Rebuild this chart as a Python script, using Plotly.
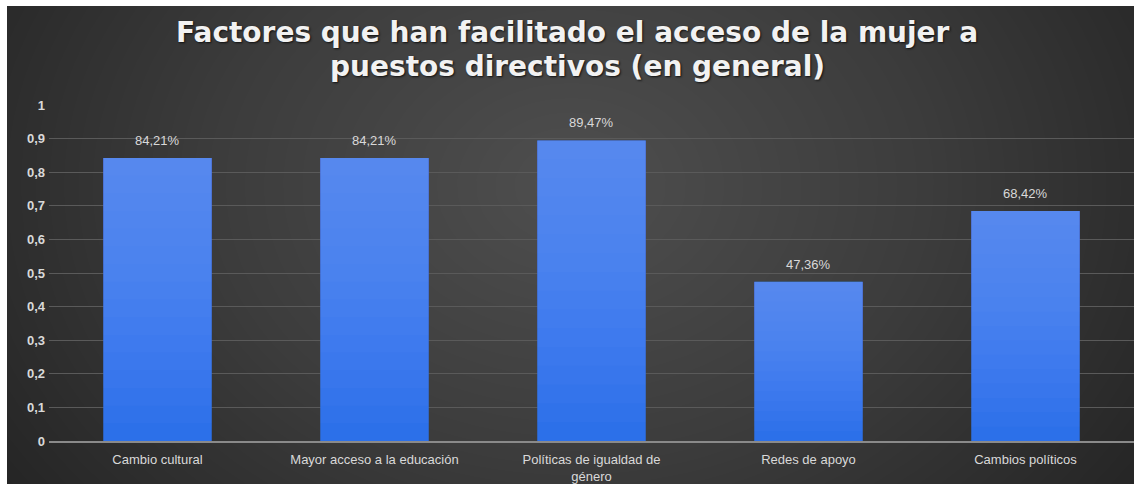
import numpy as np
import plotly.graph_objects as go

# Survey results: share of respondents naming each factor
categories = [
    "Cambio cultural",
    "Mayor acceso a la educación",
    "Políticas de igualdad de<br>género",
    "Redes de apoyo",
    "Cambios políticos",
]
values = [0.8421, 0.8421, 0.8947, 0.4736, 0.6842]
y_ticks = [0, 0.1, 0.2, 0.3, 0.4, 0.5, 0.6, 0.7, 0.8, 0.9, 1]

title_lines = [
    "Factores que han facilitado el acceso de la mujer a",
    "puestos directivos (en general)",
]

W, H = 1134, 484
FONT = "Liberation Sans, Arial, sans-serif"
TITLE_FONT = "DejaVu Sans, Liberation Sans, sans-serif"
LABEL_COLOR = "#d9d9d9"

# Dark vignette background drawn as a smoothed heatmap on its own full-size axes
gx = np.linspace(0, 1, 61)
gy = np.linspace(0, 1, 31)
X, Y = np.meshgrid(gx, gy)
r = np.sqrt(((X - 0.5) / 0.62) ** 2 + ((Y - 0.62) / 1.1) ** 2)
bg_z = np.clip(1 - r, 0, 1)

fig = go.Figure()
fig.add_trace(go.Heatmap(
    x=gx, y=gy, z=bg_z,
    colorscale=[[0, "#242424"], [0.5, "#3c3c3c"], [1, "#4e4e4e"]],
    zsmooth="best", showscale=False, hoverinfo="skip",
    xaxis="x", yaxis="y",
))

# Bars: solid base colour, then translucent lighter layers stacked toward the top
# of each bar to give a vertical gradient
fig.add_trace(go.Bar(
    x=categories, y=values,
    marker=dict(color="#2c70e9", line=dict(width=0)),
    xaxis="x2", yaxis="y2", name="",
))
n_layers = 16
for k in range(1, n_layers):
    f = k / n_layers
    fig.add_trace(go.Bar(
        x=categories,
        y=[v * (1 - f) for v in values],
        base=[v * f for v in values],
        marker=dict(color="rgba(122,168,255,0.055)", line=dict(width=0)),
        hoverinfo="skip", xaxis="x2", yaxis="y2",
    ))

annotations = []
# value labels above each bar
for c, v in zip(categories, values):
    annotations.append(dict(
        x=c, y=v, xref="x2", yref="y2",
        text=f"{v * 100:.2f}%".replace(".", ","),
        showarrow=False, yanchor="bottom", yshift=8,
        font=dict(family=FONT, size=13, color=LABEL_COLOR),
    ))
# two-line title
for i, line in enumerate(title_lines):
    annotations.append(dict(
        x=577 / W, y=1 - (33 + 33 * i) / H, xref="paper", yref="paper",
        text=line, showarrow=False, xanchor="center", yanchor="middle",
        font=dict(family=TITLE_FONT, size=28, color="#f2f2f2", weight="bold",
                  shadow="1px 1px 2px #111111"),
    ))

fig.update_layout(
    width=W, height=H,
    margin=dict(l=0, r=0, t=0, b=0, autoexpand=False),
    paper_bgcolor="#262626",
    plot_bgcolor="rgba(0,0,0,0)",
    separators=",.",
    showlegend=False,
    barmode="overlay",
    bargap=0.5,
    xaxis=dict(domain=[7 / W, 1], range=[0.01, 0.99], visible=False, fixedrange=True),
    yaxis=dict(domain=[0, 1 - 6 / H], range=[0.02, 0.98], visible=False, fixedrange=True),
    xaxis2=dict(
        domain=[49 / W, 1], anchor="y2", automargin=False,
        showgrid=False, showline=True, linecolor="#8a8a8a", linewidth=2,
        ticks="", ticklabelstandoff=5,
        tickfont=dict(family=FONT, size=13, color=LABEL_COLOR),
    ),
    yaxis2=dict(
        domain=[43 / H, 379 / H], anchor="x2", automargin=False,
        range=[0, 1], tickvals=y_ticks, tickformat=".1~f",
        showgrid=True, gridcolor="#5a5a5a", gridwidth=1,
        zeroline=False, showline=False, ticks="", ticklabelstandoff=3,
        tickfont=dict(family=FONT, size=13, color=LABEL_COLOR, weight="bold"),
    ),
    annotations=annotations,
    # white border strips along the top and left edges
    shapes=[
        dict(type="rect", xref="paper", yref="paper", x0=0, x1=1,
             y0=1 - 6 / H, y1=1, fillcolor="white", line=dict(width=0), layer="above"),
        dict(type="rect", xref="paper", yref="paper", x0=0, x1=7 / W,
             y0=0, y1=1, fillcolor="white", line=dict(width=0), layer="above"),
    ],
)

fig.write_html("out.html")
